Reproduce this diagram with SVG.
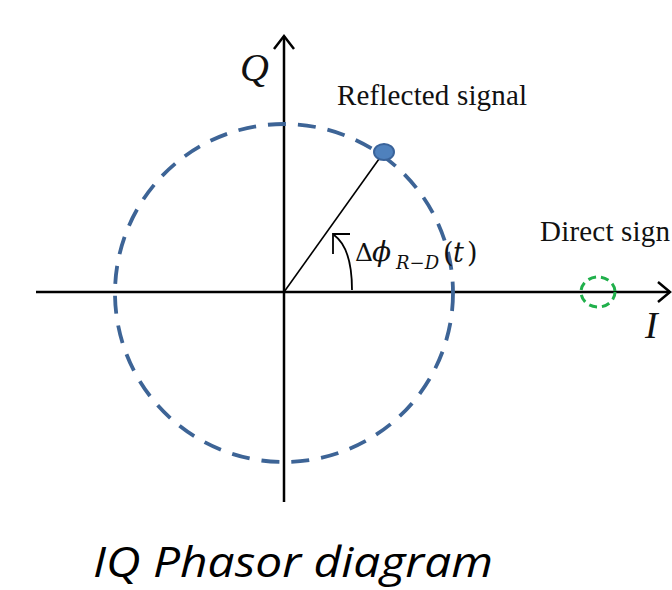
<svg xmlns="http://www.w3.org/2000/svg" width="672" height="590" viewBox="0 0 672 590">
<style>
.axis{stroke:#000;stroke-width:2.5;fill:none}
.serif{font-family:"Liberation Serif","DejaVu Serif",serif;fill:#111}
.math{font-family:"DejaVu Serif","Liberation Serif",serif;fill:#111}
</style>
<rect width="672" height="590" fill="#fff"/>
<g id="connectors">
<line class="axis" x1="36" y1="292" x2="670" y2="292"/>
<polyline class="axis" points="658,282 670,292 658,302"/>
<line class="axis" x1="284" y1="502" x2="284" y2="36"/>
<polyline class="axis" points="274,49 284,36 294,49"/>
<line x1="284" y1="292" x2="384" y2="152" stroke="#000" stroke-width="1.6"/>
<path d="M352,290 Q352,248 334,235" fill="none" stroke="#000" stroke-width="1.8"/>
<polyline points="333,254 333,234 350,234" fill="none" stroke="#000" stroke-width="1.8"/>
</g>
<g id="circle">
<circle cx="284" cy="293" r="169" fill="none" stroke="#3d6496" stroke-width="3.8" stroke-dasharray="18,12"/>
</g>
<g id="reflected">
<ellipse cx="384" cy="152" rx="10" ry="8" fill="#4f81bd" stroke="#3a639a" stroke-width="2"/>
<text class="serif" x="337" y="105" font-size="29" textLength="190" lengthAdjust="spacing">Reflected signal</text>
</g>
<g id="direct">
<ellipse cx="598" cy="292" rx="17" ry="15" fill="none" stroke="#20b04b" stroke-width="3" stroke-dasharray="8,5"/>
<text class="serif" x="540" y="241" font-size="29" textLength="130" lengthAdjust="spacing">Direct sign</text>
</g>
<g id="labels">
<text class="serif" x="240" y="81" font-size="40" font-style="italic">Q</text>
<text class="serif" x="645" y="338" font-size="38" font-style="italic">I</text>
<text class="math" y="261" font-size="25"><tspan x="355">Δ</tspan><tspan x="372" font-size="28" font-style="italic">ϕ</tspan><tspan x="396" y="269" font-size="18" font-style="italic">R−D</tspan><tspan x="443" y="262" font-size="27">(</tspan><tspan x="453" font-size="27" font-style="italic">t</tspan><tspan x="467" font-size="27">)</tspan></text>
<text x="93" y="577" font-family="Open Sans,Liberation Sans,sans-serif" font-style="italic" font-size="42" textLength="400" lengthAdjust="spacingAndGlyphs" fill="#000">IQ Phasor diagram</text>
</g>
</svg>
